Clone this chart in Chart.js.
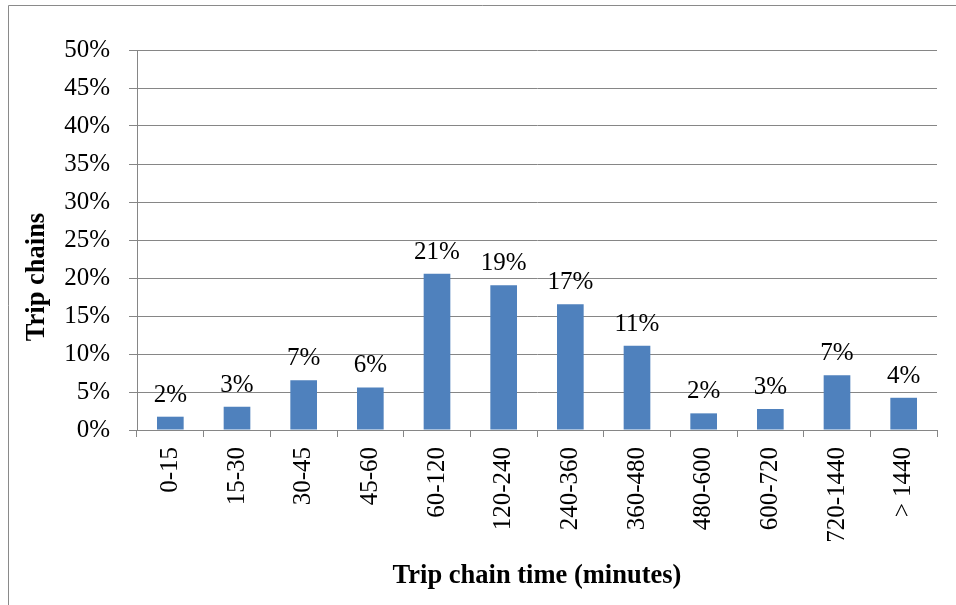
<!DOCTYPE html>
<html>
<head>
<meta charset="utf-8">
<script src="https://cdn.jsdelivr.net/npm/chart.js@4"></script>
<style>
html,body{margin:0;padding:0;background:#fff;}
#wrap{position:relative;width:956px;height:605px;}
</style>
</head>
<body>
<div id="wrap"><canvas id="c" width="956" height="605"></canvas></div>
<script>
const categories = ['0-15','15-30','30-45','45-60','60-120','120-240','240-360','360-480','480-600','600-720','720-1440','> 1440'];
const tripChainShare = [1.75, 3.06, 6.56, 5.6, 20.56, 19.03, 16.54, 11.1, 2.19, 2.76, 7.22, 4.24];
const yTickStep = 5;
const yMax = 50;
const xTitle = 'Trip chain time (minutes)';
const yTitle = 'Trip chains';

const FONT = '"Liberation Serif", "Times New Roman", serif';
const GRID = '#868686';

const frame = {
  id: 'frame',
  beforeDraw(chart) {
    const ctx = chart.ctx;
    ctx.save();
    ctx.strokeStyle = '#8a8a8a';
    ctx.lineWidth = 1;
    ctx.beginPath();
    ctx.moveTo(8.5, 620);
    ctx.lineTo(8.5, 5.5);
    ctx.lineTo(970, 5.5);
    ctx.stroke();
    ctx.restore();
  }
};

const yTitlePlugin = {
  id: 'yTitlePlugin',
  afterDraw(chart) {
    const ctx = chart.ctx;
    ctx.save();
    ctx.translate(37, 277);
    ctx.rotate(-Math.PI / 2);
    ctx.font = 'bold 26.5px ' + FONT;
    ctx.fillStyle = '#000';
    ctx.textAlign = 'center';
    ctx.textBaseline = 'middle';
    ctx.fillText(yTitle, 0, 0);
    ctx.restore();
  }
};

const barLabels = {
  id: 'barLabels',
  afterDatasetsDraw(chart) {
    const ctx = chart.ctx;
    const meta = chart.getDatasetMeta(0);
    ctx.save();
    ctx.font = '25px ' + FONT;
    ctx.fillStyle = '#000';
    ctx.textAlign = 'center';
    ctx.textBaseline = 'alphabetic';
    meta.data.forEach((bar, i) => {
      const v = chart.data.datasets[0].data[i];
      ctx.fillText(Math.round(v) + '%', bar.x, bar.y - 15);
    });
    ctx.restore();
  }
};

new Chart(document.getElementById('c'), {
  type: 'bar',
  data: {
    labels: categories,
    datasets: [{
      data: tripChainShare,
      backgroundColor: '#4F81BD',
      borderWidth: 0,
      categoryPercentage: 1,
      barPercentage: 0.4
    }]
  },
  options: {
    responsive: false,
    animation: false,
    devicePixelRatio: 1,
    layout: { padding: { left: 0, top: 50, right: 19, bottom: 0 } },
    plugins: { legend: { display: false }, tooltip: { enabled: false } },
    scales: {
      x: {
        grid: { drawOnChartArea: false, offset: true, tickLength: 7, color: GRID },
        border: { color: GRID, width: 1 },
        ticks: {
          color: '#000', font: { family: FONT, size: 25 },
          minRotation: 90, maxRotation: 90, padding: 10, autoSkip: false
        },
        title: {
          display: true, text: xTitle, color: '#000',
          font: { family: FONT, size: 26.5, weight: 'bold' },
          padding: { top: 0, bottom: 13 }
        },
        afterFit(s) { s.height = 175; }
      },
      y: {
        min: 0, max: yMax,
        grid: { color: GRID, tickLength: 8 },
        border: { color: GRID, width: 1 },
        ticks: {
          stepSize: yTickStep, color: '#000', font: { family: FONT, size: 25 }, padding: 19,
          callback: v => v + '%'
        },
        title: { display: false },
        afterFit(s) { s.width = 137; }
      }
    }
  },
  plugins: [frame, barLabels, yTitlePlugin]
});
</script>
</body>
</html>
